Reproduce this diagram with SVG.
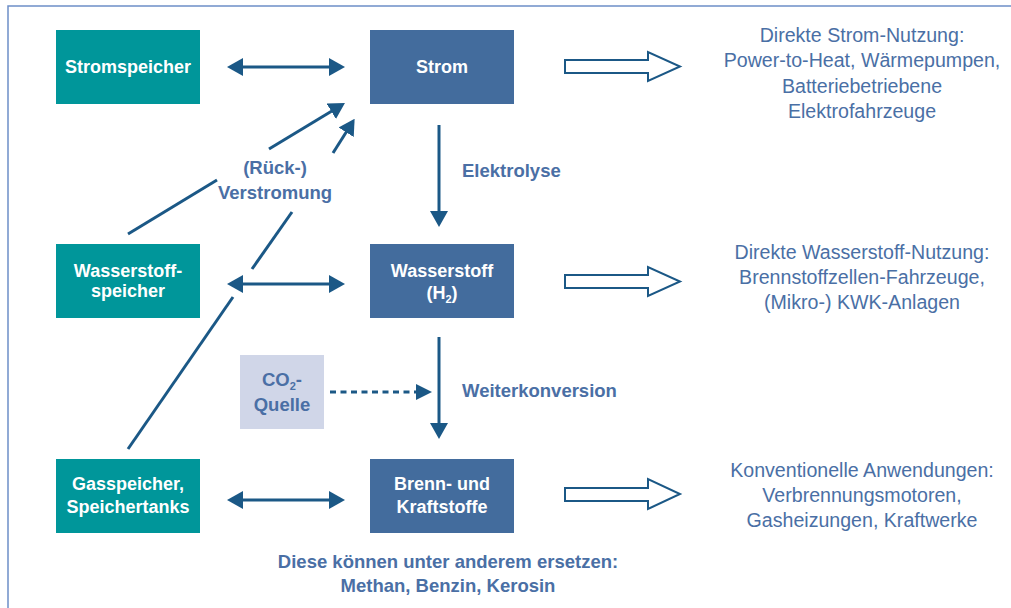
<svg xmlns="http://www.w3.org/2000/svg" width="1011" height="608" viewBox="0 0 1011 608">
<style>
.teal{fill:#00969a}
.blue{fill:#436c9d}
.co2{fill:#d0d6e8}
.nt{font-family:"Liberation Sans",Arial,sans-serif;font-weight:bold;font-size:18px;fill:#ffffff;text-anchor:middle}
.lb{font-family:"Liberation Sans",Arial,sans-serif;font-weight:bold;font-size:18.5px;fill:#4a6fa5}
.rt{font-family:"Liberation Sans",Arial,sans-serif;font-size:19.6px;fill:#4a6fa5;text-anchor:middle}
.ln{stroke:#1b5886;stroke-width:3;fill:none}
.blk{fill:#ffffff;stroke:#1b5886;stroke-width:2}
</style>
<defs>
<marker id="ah" viewBox="0 0 16 18" refX="6" refY="9" markerWidth="16" markerHeight="18" markerUnits="userSpaceOnUse" orient="auto-start-reverse">
<path d="M0,0 L16,9 L0,18 z" fill="#1b5886"/>
</marker>
<marker id="ahs" viewBox="0 0 16 18" refX="6" refY="9" markerWidth="16" markerHeight="18" markerUnits="userSpaceOnUse" orient="auto">
<path d="M0,1 L16,9 L0,17 z" fill="#1b5886"/>
</marker>
</defs>
<rect width="1011" height="608" fill="#ffffff"/>
<path d="M8,608 V6 H1011" fill="none" stroke="#6e8fc8" stroke-width="1.5"/>

<g id="stromspeicher"><rect class="teal" x="56" y="30" width="144" height="74"/><text class="nt" x="128" y="73">Stromspeicher</text></g>
<g id="strom"><rect class="blue" x="370" y="30" width="144" height="74"/><text class="nt" x="442" y="73">Strom</text></g>
<g id="wasserstoffspeicher"><rect class="teal" x="56" y="244" width="144" height="74"/><text class="nt" x="128" y="277">Wasserstoff-</text><text class="nt" x="128" y="297">speicher</text></g>
<g id="wasserstoff"><rect class="blue" x="370" y="244" width="144" height="74"/><text class="nt" x="442" y="277">Wasserstoff</text><text class="nt" x="442" y="299">(H<tspan font-size="11" dy="4">2</tspan><tspan dy="-4">)</tspan></text></g>
<g id="co2quelle"><rect class="co2" x="240" y="355" width="84" height="74"/><text class="lb" x="282" y="386" text-anchor="middle">CO<tspan font-size="11" dy="4">2</tspan><tspan dy="-4">-</tspan></text><text class="lb" x="282" y="411" text-anchor="middle">Quelle</text></g>
<g id="gasspeicher"><rect class="teal" x="56" y="459" width="144" height="74"/><text class="nt" x="128" y="490">Gasspeicher,</text><text class="nt" x="128" y="513">Speichertanks</text></g>
<g id="brennstoffe"><rect class="blue" x="370" y="459" width="144" height="74"/><text class="nt" x="442" y="490">Brenn- und</text><text class="nt" x="442" y="513">Kraftstoffe</text></g>

<g id="labels">
<text class="lb" x="275" y="174" text-anchor="middle">(Rück-)</text>
<text class="lb" x="275" y="199" text-anchor="middle">Verstromung</text>
<text class="lb" x="462" y="177">Elektrolyse</text>
<text class="lb" x="462" y="397">Weiterkonversion</text>
<text class="lb" x="448" y="568" text-anchor="middle">Diese können unter anderem ersetzen:</text>
<text class="lb" x="448" y="592" text-anchor="middle">Methan, Benzin, Kerosin</text>
</g>

<g id="uses">
<text class="rt" x="862" y="42">Direkte Strom-Nutzung:</text>
<text class="rt" x="862" y="67">Power-to-Heat, Wärmepumpen,</text>
<text class="rt" x="862" y="93">Batteriebetriebene</text>
<text class="rt" x="862" y="118">Elektrofahrzeuge</text>
<text class="rt" x="862" y="259">Direkte Wasserstoff-Nutzung:</text>
<text class="rt" x="862" y="284">Brennstoffzellen-Fahrzeuge,</text>
<text class="rt" x="862" y="309">(Mikro-) KWK-Anlagen</text>
<text class="rt" x="862" y="477">Konventionelle Anwendungen:</text>
<text class="rt" x="862" y="502">Verbrennungsmotoren,</text>
<text class="rt" x="862" y="527">Gasheizungen, Kraftwerke</text>
</g>

<g id="connectors">
<line class="ln" x1="237" y1="67" x2="335" y2="67" marker-start="url(#ah)" marker-end="url(#ah)"/>
<line class="ln" x1="237" y1="284" x2="335" y2="284" marker-start="url(#ah)" marker-end="url(#ah)"/>
<line class="ln" x1="237" y1="500" x2="335" y2="500" marker-start="url(#ah)" marker-end="url(#ah)"/>
<line class="ln" x1="439" y1="125" x2="439" y2="217" marker-end="url(#ah)"/>
<line class="ln" x1="439" y1="337" x2="439" y2="429" marker-end="url(#ah)"/>
<line class="ln" x1="330" y1="392" x2="422" y2="392" stroke-dasharray="6 4.5" marker-end="url(#ahs)"/>
<line class="ln" x1="128" y1="234" x2="217" y2="180"/>
<line class="ln" x1="269" y1="149" x2="336.4" y2="108.2" marker-end="url(#ah)"/>
<line class="ln" x1="128" y1="449" x2="233" y2="297"/>
<line class="ln" x1="252" y1="269" x2="292" y2="212"/>
<line class="ln" x1="333" y1="153" x2="349.3" y2="127.2" marker-end="url(#ah)"/>
<path class="blk" d="M565,60 H648 V52 L680,66.5 L648,81 V73 H565 Z"/>
<path class="blk" d="M565,275 H648 V267 L680,281.5 L648,296 V288 H565 Z"/>
<path class="blk" d="M565,488 H648 V479 L680,494 L648,509 V501 H565 Z"/>
</g>
</svg>
